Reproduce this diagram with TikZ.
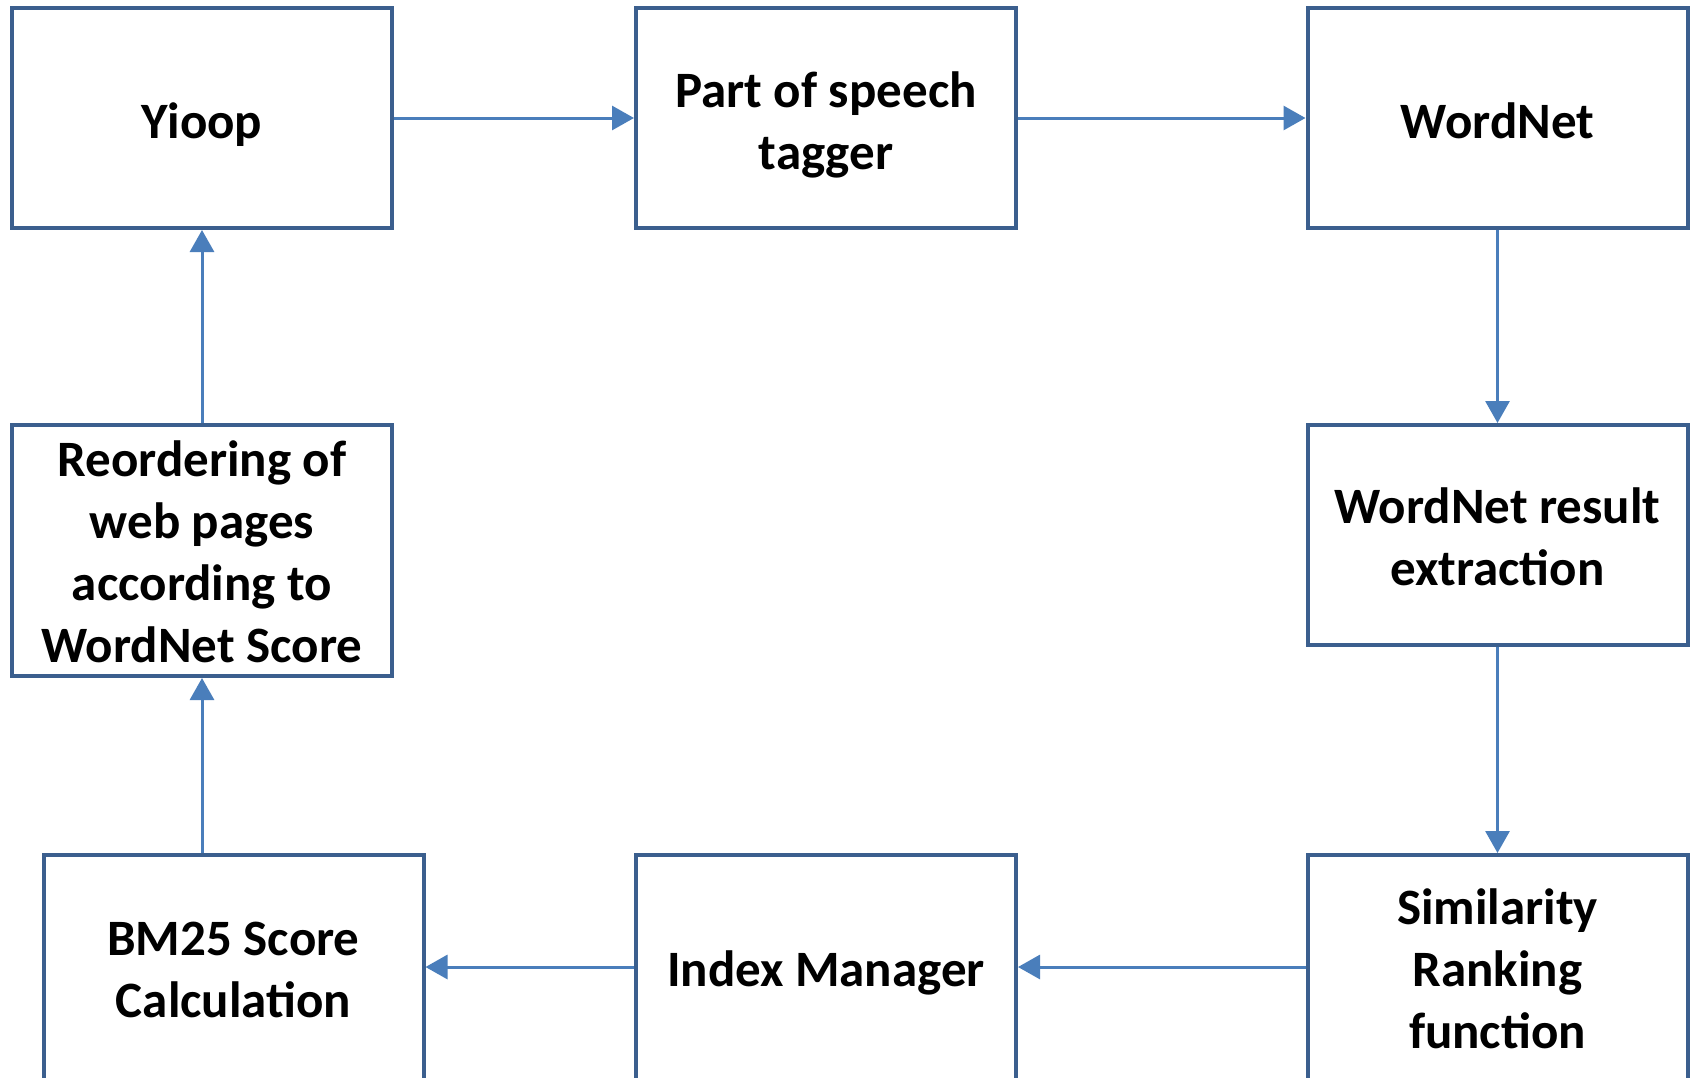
\documentclass[tikz,border=0pt]{standalone}
\usepackage{fontspec}
\setmainfont{Carlito}
\usetikzlibrary{arrows.meta}
\definecolor{boxc}{HTML}{3B5F8E}
\definecolor{arrc}{HTML}{4A7EBB}
\begin{document}
\begin{tikzpicture}[x=1pt,y=-1pt,
  blk/.style={draw=boxc, line width=4pt, fill=white, minimum width=380pt, minimum height=220pt, inner sep=0pt},
  lbl/.style={align=center, inner sep=0pt, font=\fontsize{51}{62}\selectfont\bfseries},
  conn/.style={draw=arrc, line width=3pt, -{Triangle[length=22pt,width=24pt]}}]
\useasboundingbox (0,0) rectangle (1698,1077);
\clip (0,0) rectangle (1698,1077);
\fill[white] (0,0) rectangle (1698,1077);
\node[blk, label={[lbl,yshift=-6.5pt]center:{Yioop}}] (yioop) at (202,118) {};
\node[blk, label={[lbl,yshift=-6.5pt]center:{Part of speech\\tagger}}] (pos) at (826,118) {};
\node[blk, label={[lbl,yshift=-3pt]center:{WordNet}}] (wn) at (1497.5,118) {};
\node[blk, label={[lbl,yshift=-2pt]center:{WordNet result\\extraction}}] (wre) at (1497.5,535) {};
\node[blk, minimum height=251pt, label={[lbl,yshift=-1.5pt]center:{Reordering of\\web pages\\according to\\WordNet Score}}] (reorder) at (202,550.5) {};
\node[blk, minimum height=230pt, label={[lbl,yshift=1pt]center:{Similarity\\Ranking\\function}}] (sim) at (1497.5,970) {};
\node[blk, minimum height=230pt, label={[lbl,yshift=-3pt]center:{Index Manager}}] (index) at (826,970) {};
\node[blk, minimum height=230pt, label={[lbl,yshift=0pt]center:{BM25 Score\\Calculation}}] (bm25) at (233.5,970) {};
\coordinate (row3) at (0,967);
\draw[conn] (yioop.east) -- (pos.west);
\draw[conn] (pos.east) -- (wn.west);
\draw[conn] (wn.south) -- (wre.north);
\draw[conn] (wre.south) -- (sim.north);
\draw[conn] (sim.west |- row3) -- (index.east |- row3);
\draw[conn] (index.west |- row3) -- (bm25.east |- row3);
\draw[conn] (reorder.south |- bm25.north) -- (reorder.south);
\draw[conn] (reorder.north) -- (yioop.south);
\end{tikzpicture}
\end{document}
